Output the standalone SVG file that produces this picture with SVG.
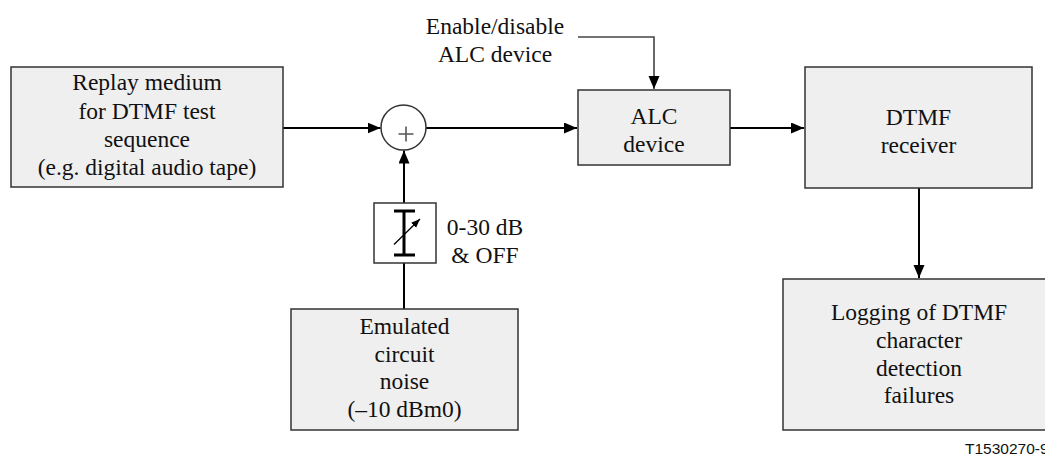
<svg xmlns="http://www.w3.org/2000/svg" width="1045" height="455" viewBox="0 0 1045 455">
<style>
.box{fill:#efefef;stroke:#333;stroke-width:1.5}
.t{font-family:"Liberation Serif","Times New Roman",serif;font-size:23.5px;fill:#111;text-anchor:middle}
.c{fill:none;stroke:#000;stroke-width:2}
.g{fill:none;stroke:#444;stroke-width:1.6}
</style>
<defs>
<marker id="ah" markerUnits="userSpaceOnUse" markerWidth="14" markerHeight="12" refX="13" refY="5.5" orient="auto">
<path d="M0,0 L13,5.5 L0,11 z" fill="#000"/>
</marker>
<marker id="sa" markerUnits="userSpaceOnUse" markerWidth="10" markerHeight="8" refX="9" refY="3.5" orient="auto">
<path d="M0,0 L9,3.5 L0,7 z" fill="#000"/>
</marker>
</defs>
<g id="connectors">
<line class="c" x1="283" y1="128" x2="380.5" y2="128" marker-end="url(#ah)"/>
<line class="c" x1="426" y1="128" x2="577" y2="128" marker-end="url(#ah)"/>
<line class="c" x1="730" y1="128" x2="804" y2="128" marker-end="url(#ah)"/>
<line class="c" x1="919" y1="188" x2="919" y2="278" marker-end="url(#ah)"/>
<line class="c" x1="404" y1="203" x2="404" y2="150.5" marker-end="url(#ah)"/>
<line class="c" x1="404" y1="309" x2="404" y2="263"/>
<polyline class="g" points="578,37 654,37 654,89" marker-end="url(#ah)"/>
</g>
<g id="replay">
<rect class="box" x="11" y="67" width="272" height="120"/>
<text class="t" x="147" y="90">Replay medium</text>
<text class="t" x="147" y="118.5">for DTMF test</text>
<text class="t" x="147" y="146.5">sequence</text>
<text class="t" x="147" y="175">(e.g. digital audio tape)</text>
</g>
<g id="sum">
<circle cx="403.5" cy="127.5" r="22.5" fill="#fff" stroke="#333" stroke-width="1.5"/>
<path d="M398.5,134 H413.5 M406,126.5 V141.5" stroke="#555" stroke-width="1.6" fill="none"/>
</g>
<g id="attenuator">
<rect x="374" y="203" width="62" height="60" fill="#fff" stroke="#333" stroke-width="1.5"/>
<path d="M404,211 V255 M394,211 H415 M394,255 H415" stroke="#000" stroke-width="3" fill="none"/>
<line x1="394" y1="244.5" x2="420" y2="219" stroke="#000" stroke-width="1.3" marker-end="url(#sa)"/>
<text class="t" x="485" y="235">0-30 dB</text>
<text class="t" x="485" y="263">&amp; OFF</text>
</g>
<g id="noise">
<rect class="box" x="291" y="309" width="227" height="121"/>
<text class="t" x="404.5" y="334">Emulated</text>
<text class="t" x="404.5" y="361.5">circuit</text>
<text class="t" x="404.5" y="389">noise</text>
<text class="t" x="404.5" y="416.5">(–10 dBm0)</text>
</g>
<g id="enable">
<text class="t" x="495" y="34">Enable/disable</text>
<text class="t" x="495" y="62">ALC device</text>
</g>
<g id="alc">
<rect class="box" x="578" y="90" width="152" height="75"/>
<text class="t" x="654" y="124">ALC</text>
<text class="t" x="654" y="152">device</text>
</g>
<g id="receiver">
<rect class="box" x="805" y="67" width="227" height="121"/>
<text class="t" x="918.5" y="125">DTMF</text>
<text class="t" x="918.5" y="153">receiver</text>
</g>
<g id="logging">
<rect class="box" x="783" y="279" width="272" height="151"/>
<text class="t" x="919" y="320">Logging of DTMF</text>
<text class="t" x="919" y="348">character</text>
<text class="t" x="919" y="375.5">detection</text>
<text class="t" x="919" y="403">failures</text>
</g>
<text x="965" y="453.5" style="font-family:'Liberation Sans',Arial,sans-serif;font-size:15.5px;fill:#111">T1530270-9</text>
</svg>
